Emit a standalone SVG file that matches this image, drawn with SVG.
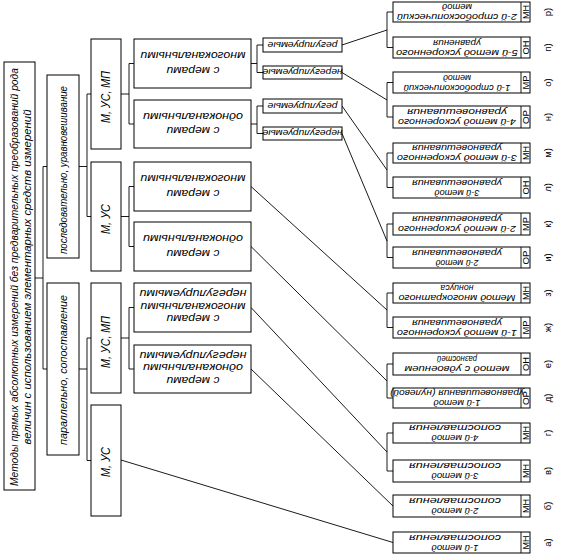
<svg xmlns="http://www.w3.org/2000/svg" width="561" height="557" viewBox="0 0 561 557">
<style>
.b{fill:#fff;stroke:#000;stroke-width:1}
.l{fill:none;stroke:#000;stroke-width:0.9}
text{font-family:"Liberation Sans",Arial,sans-serif;font-style:italic;fill:#000;dominant-baseline:central;text-anchor:middle}
.f10{font-size:10.5px}
.f4{font-size:11px}
.f11{font-size:12px}
.f9{font-size:9.5px}
.f8{font-size:9px}
.c{font-size:8.5px;font-style:normal}
.lab{font-size:9.5px;font-style:normal}
</style>
<rect width="561" height="557" fill="#fff"/>
<g id="connectors" class="l">
<path d="M35 278H43M43 166.5V369M43 166.5H47M43 369H47"/>
<path d="M79 166.5H87M87 94V216.5M87 94H91M87 216.5H91"/>
<path d="M79 369H87M87 338V460.5M87 338H91M87 460.5H91"/>
<path d="M121 94H129M129 63.5V124M129 63.5H134M129 124H134"/>
<path d="M121 216.5H129M129 186.5V246.5M129 186.5H134M129 246.5H134"/>
<path d="M121 338H129M129 307.5V369M129 307.5H134M129 369H134"/>
<path d="M251 63.5H257M257 45V72.5M257 45H263M257 72.5H263"/>
<path d="M251 124H257M257 106V133.5M257 106H263M257 133.5H263"/>
<path d="M342 45L387 30M342 72.5L387 100M342 106L387 170M342 133.5L387 241"/>
<path d="M251 186.5L387 310M251 246.5L387 381M251 307.5L387 452M251 369L393 506M121 460L393 542.5"/>
<path d="M387 12V47.5M387 12H393M387 47.5H393"/>
<path d="M387 82.5V117M387 82.5H393M387 117H393"/>
<path d="M387 153V187.5M387 153H393M387 187.5H393"/>
<path d="M387 224V257.5M387 224H393M387 257.5H393"/>
<path d="M387 293V327.5M387 293H393M387 327.5H393"/>
<path d="M387 364V398M387 364H393M387 398H393"/>
<path d="M387 433V471M387 433H393M387 471H393"/>
</g>
<g id="root">
<rect class="b" x="4" y="62" width="31" height="428"/>
<text class="f10" transform="rotate(-90 14 277)" x="14" y="277" textLength="418" lengthAdjust="spacingAndGlyphs">Методы прямых абсолютных измерений без предварительных преобразований рода</text>
<text class="f10" transform="rotate(-90 27 277)" x="27" y="277" textLength="335" lengthAdjust="spacingAndGlyphs">величин с использованием элементарных средств измерений</text>
</g>
<g id="posl">
<rect class="b" x="47" y="75" width="32" height="183"/>
<text class="f10" transform="rotate(-90 63 170)" x="63" y="170" textLength="168" lengthAdjust="spacingAndGlyphs">последовательно, уравновешивание</text>
</g>
<g id="par">
<rect class="b" x="47" y="283" width="32" height="172"/>
<text class="f10" transform="rotate(-90 63 370)" x="63" y="370" textLength="150" lengthAdjust="spacingAndGlyphs">параллельно, сопоставление</text>
</g>
<g id="u1"><rect class="b" x="91" y="39" width="30" height="110"/><text class="f11" transform="rotate(-90 106 97)" x="106" y="97" textLength="52" lengthAdjust="spacingAndGlyphs">М, УС, МП</text></g>
<g id="u2"><rect class="b" x="91" y="162" width="30" height="109"/><text class="f11" transform="rotate(-90 106 219)" x="106" y="219" textLength="30" lengthAdjust="spacingAndGlyphs">М, УС</text></g>
<g id="l1"><rect class="b" x="91" y="283" width="30" height="110"/><text class="f11" transform="rotate(-90 106 342)" x="106" y="342" textLength="52" lengthAdjust="spacingAndGlyphs">М, УС, МП</text></g>
<g id="l2"><rect class="b" x="91" y="405" width="30" height="111"/><text class="f11" transform="rotate(-90 106 462)" x="106" y="462" textLength="30" lengthAdjust="spacingAndGlyphs">М, УС</text></g>
<g id="a1"><rect class="b" x="134" y="39" width="117" height="49"/><g transform="rotate(180 193 63.5)"><text class="f4" x="193" y="56.5" textLength="53" lengthAdjust="spacingAndGlyphs">с мерами</text><text class="f4" x="193" y="71" textLength="105" lengthAdjust="spacingAndGlyphs">многоканальными</text></g></g>
<g id="a2"><rect class="b" x="134" y="100" width="117" height="48"/><g transform="rotate(180 193 124)"><text class="f4" x="193" y="117" textLength="53" lengthAdjust="spacingAndGlyphs">с мерами</text><text class="f4" x="193" y="131.5" textLength="100" lengthAdjust="spacingAndGlyphs">одноканальными</text></g></g>
<g id="b1"><rect class="b" x="134" y="162" width="117" height="49"/><g transform="rotate(180 193 186.5)"><text class="f4" x="193" y="179.5" textLength="53" lengthAdjust="spacingAndGlyphs">с мерами</text><text class="f4" x="193" y="194" textLength="105" lengthAdjust="spacingAndGlyphs">многоканальными</text></g></g>
<g id="b2"><rect class="b" x="134" y="222" width="117" height="49"/><g transform="rotate(180 193 246.5)"><text class="f4" x="193" y="239.5" textLength="53" lengthAdjust="spacingAndGlyphs">с мерами</text><text class="f4" x="193" y="254" textLength="100" lengthAdjust="spacingAndGlyphs">одноканальными</text></g></g>
<g id="c1"><rect class="b" x="134" y="283" width="117" height="49"/><g transform="rotate(180 193 307.5)"><text class="f4" x="193" y="296" textLength="53" lengthAdjust="spacingAndGlyphs">с мерами</text><text class="f4" x="193" y="308.5" textLength="105" lengthAdjust="spacingAndGlyphs">многоканальными</text><text class="f4" x="193" y="321" textLength="107" lengthAdjust="spacingAndGlyphs">нерегулируемыми</text></g></g>
<g id="c2"><rect class="b" x="134" y="345" width="117" height="48"/><g transform="rotate(180 193 369)"><text class="f4" x="193" y="357.5" textLength="53" lengthAdjust="spacingAndGlyphs">с мерами</text><text class="f4" x="193" y="370" textLength="100" lengthAdjust="spacingAndGlyphs">одноканальными</text><text class="f4" x="193" y="382.5" textLength="107" lengthAdjust="spacingAndGlyphs">нерегулируемыми</text></g></g>
<g id="r1"><rect class="b" x="263" y="38" width="79" height="14"/><text class="f9" transform="rotate(180 302.5 45)" x="302.5" y="45" textLength="70" lengthAdjust="spacingAndGlyphs">регулируемые</text></g>
<g id="r2"><rect class="b" x="263" y="66" width="79" height="13"/><text class="f9" transform="rotate(180 302.5 72.5)" x="302.5" y="72.5" textLength="80" lengthAdjust="spacingAndGlyphs">нерегулируемые</text></g>
<g id="r3"><rect class="b" x="263" y="99" width="79" height="14"/><text class="f9" transform="rotate(180 302.5 106)" x="302.5" y="106" textLength="70" lengthAdjust="spacingAndGlyphs">регулируемые</text></g>
<g id="r4"><rect class="b" x="263" y="127" width="79" height="13"/><text class="f9" transform="rotate(180 302.5 133.5)" x="302.5" y="133.5" textLength="80" lengthAdjust="spacingAndGlyphs">нерегулируемые</text></g>
<g id="m-r"><rect class="b" x="393" y="2" width="137" height="20"/><path class="l" d="M521 2V22"/><g transform="rotate(180 457 12)"><text class="f8" x="457" y="7" textLength="120" lengthAdjust="spacingAndGlyphs">2-й стробоскопический</text><text class="f8" x="457" y="17" textLength="30" lengthAdjust="spacingAndGlyphs">метод</text></g><text class="c" transform="rotate(-90 525.5 12)" x="525.5" y="12" textLength="14" lengthAdjust="spacingAndGlyphs">МН</text><text class="lab" transform="rotate(-90 547 12)" x="547" y="12">р)</text></g>
<g id="m-p"><rect class="b" x="393" y="37" width="137" height="21"/><path class="l" d="M521 37V58"/><g transform="rotate(180 457 47.5)"><text class="f8" x="457" y="42.5" textLength="122" lengthAdjust="spacingAndGlyphs">5-й метод ускоренного</text><text class="f8" x="457" y="52.5" textLength="48" lengthAdjust="spacingAndGlyphs">уравнения</text></g><text class="c" transform="rotate(-90 525.5 47.5)" x="525.5" y="47.5" textLength="14" lengthAdjust="spacingAndGlyphs">ОН</text><text class="lab" transform="rotate(-90 547 47.5)" x="547" y="47.5">п)</text></g>
<g id="m-o"><rect class="b" x="393" y="72" width="137" height="21"/><path class="l" d="M521 72V93"/><g transform="rotate(180 457 82.5)"><text class="f8" x="457" y="77.5" textLength="107" lengthAdjust="spacingAndGlyphs">1-й стробоскопический</text><text class="f8" x="457" y="87.5" textLength="28" lengthAdjust="spacingAndGlyphs">метод</text></g><text class="c" transform="rotate(-90 525.5 82.5)" x="525.5" y="82.5" textLength="14" lengthAdjust="spacingAndGlyphs">МР</text><text class="lab" transform="rotate(-90 547 82.5)" x="547" y="82.5">о)</text></g>
<g id="m-n"><rect class="b" x="393" y="106" width="137" height="22"/><path class="l" d="M521 106V128"/><g transform="rotate(180 457 117)"><text class="f8" x="457" y="112" textLength="118" lengthAdjust="spacingAndGlyphs">4-й метод ускоренного</text><text class="f8" x="457" y="122" textLength="100" lengthAdjust="spacingAndGlyphs">уравновешивания</text></g><text class="c" transform="rotate(-90 525.5 117)" x="525.5" y="117" textLength="14" lengthAdjust="spacingAndGlyphs">ОР</text><text class="lab" transform="rotate(-90 547 117)" x="547" y="117">н)</text></g>
<g id="m-m"><rect class="b" x="393" y="143" width="137" height="20"/><path class="l" d="M521 143V163"/><g transform="rotate(180 457 153)"><text class="f8" x="457" y="148" textLength="120" lengthAdjust="spacingAndGlyphs">3-й метод ускоренного</text><text class="f8" x="457" y="158" textLength="90" lengthAdjust="spacingAndGlyphs">уравновешивания</text></g><text class="c" transform="rotate(-90 525.5 153)" x="525.5" y="153" textLength="14" lengthAdjust="spacingAndGlyphs">МН</text><text class="lab" transform="rotate(-90 547 153)" x="547" y="153">м)</text></g>
<g id="m-l"><rect class="b" x="393" y="177" width="137" height="21"/><path class="l" d="M521 177V198"/><g transform="rotate(180 457 187.5)"><text class="f8" x="457" y="182.5" textLength="45" lengthAdjust="spacingAndGlyphs">3-й метод</text><text class="f8" x="457" y="192.5" textLength="90" lengthAdjust="spacingAndGlyphs">уравновешивания</text></g><text class="c" transform="rotate(-90 525.5 187.5)" x="525.5" y="187.5" textLength="14" lengthAdjust="spacingAndGlyphs">ОН</text><text class="lab" transform="rotate(-90 547 187.5)" x="547" y="187.5">л)</text></g>
<g id="m-k"><rect class="b" x="393" y="213" width="137" height="22"/><path class="l" d="M521 213V235"/><g transform="rotate(180 457 224)"><text class="f8" x="457" y="219" textLength="118" lengthAdjust="spacingAndGlyphs">2-й метод ускоренного</text><text class="f8" x="457" y="229" textLength="90" lengthAdjust="spacingAndGlyphs">уравновешивания</text></g><text class="c" transform="rotate(-90 525.5 224)" x="525.5" y="224" textLength="14" lengthAdjust="spacingAndGlyphs">МР</text><text class="lab" transform="rotate(-90 547 224)" x="547" y="224">к)</text></g>
<g id="m-i"><rect class="b" x="393" y="247" width="137" height="21"/><path class="l" d="M521 247V268"/><g transform="rotate(180 457 257.5)"><text class="f8" x="457" y="252.5" textLength="43" lengthAdjust="spacingAndGlyphs">2-й метод</text><text class="f8" x="457" y="262.5" textLength="90" lengthAdjust="spacingAndGlyphs">уравновешивания</text></g><text class="c" transform="rotate(-90 525.5 257.5)" x="525.5" y="257.5" textLength="14" lengthAdjust="spacingAndGlyphs">ОР</text><text class="lab" transform="rotate(-90 547 257.5)" x="547" y="257.5">и)</text></g>
<g id="m-z"><rect class="b" x="393" y="283" width="137" height="20"/><path class="l" d="M521 283V303"/><g transform="rotate(180 457 293)"><text class="f8" x="457" y="288" textLength="117" lengthAdjust="spacingAndGlyphs">Метод многократного</text><text class="f8" x="457" y="298" textLength="33" lengthAdjust="spacingAndGlyphs">нониуса</text></g><text class="c" transform="rotate(-90 525.5 293)" x="525.5" y="293" textLength="14" lengthAdjust="spacingAndGlyphs">МН</text><text class="lab" transform="rotate(-90 547 293)" x="547" y="293">з)</text></g>
<g id="m-zh"><rect class="b" x="393" y="317" width="137" height="21"/><path class="l" d="M521 317V338"/><g transform="rotate(180 457 327.5)"><text class="f8" x="457" y="322.5" textLength="120" lengthAdjust="spacingAndGlyphs">1-й метод ускоренного</text><text class="f8" x="457" y="332.5" textLength="90" lengthAdjust="spacingAndGlyphs">уравновешивания</text></g><text class="c" transform="rotate(-90 525.5 327.5)" x="525.5" y="327.5" textLength="14" lengthAdjust="spacingAndGlyphs">МР</text><text class="lab" transform="rotate(-90 547 327.5)" x="547" y="327.5">ж)</text></g>
<g id="m-e"><rect class="b" x="393" y="353" width="137" height="22"/><path class="l" d="M521 353V375"/><g transform="rotate(180 457 364)"><text class="f8" x="457" y="359" textLength="105" lengthAdjust="spacingAndGlyphs">метод с удвоением</text><text class="f8" x="457" y="369" textLength="40" lengthAdjust="spacingAndGlyphs">разностей</text></g><text class="c" transform="rotate(-90 525.5 364)" x="525.5" y="364" textLength="14" lengthAdjust="spacingAndGlyphs">ОН</text><text class="lab" transform="rotate(-90 547 364)" x="547" y="364">е)</text></g>
<g id="m-d"><rect class="b" x="393" y="388" width="137" height="20"/><path class="l" d="M521 388V408"/><g transform="rotate(180 457 398)"><text class="f8" x="457" y="393" textLength="47" lengthAdjust="spacingAndGlyphs">1-й метод</text><text class="f8" x="457" y="403" textLength="134" lengthAdjust="spacingAndGlyphs">уравновешивания (нулевой)</text></g><text class="c" transform="rotate(-90 525.5 398)" x="525.5" y="398" textLength="14" lengthAdjust="spacingAndGlyphs">ОР</text><text class="lab" transform="rotate(-90 547 398)" x="547" y="398">д)</text></g>
<g id="m-g"><rect class="b" x="393" y="423" width="137" height="20"/><path class="l" d="M521 423V443"/><g transform="rotate(180 455 433)"><text class="f8" x="455" y="428" textLength="47" lengthAdjust="spacingAndGlyphs">4-й метод</text><text class="f8" x="455" y="438" textLength="92" lengthAdjust="spacingAndGlyphs">сопоставления</text></g><text class="c" transform="rotate(-90 525.5 433)" x="525.5" y="433" textLength="14" lengthAdjust="spacingAndGlyphs">МН</text><text class="lab" transform="rotate(-90 547 433)" x="547" y="433">г)</text></g>
<g id="m-v"><rect class="b" x="393" y="460" width="137" height="22"/><path class="l" d="M521 460V482"/><g transform="rotate(180 455 471)"><text class="f8" x="455" y="466" textLength="47" lengthAdjust="spacingAndGlyphs">3-й метод</text><text class="f8" x="455" y="476" textLength="92" lengthAdjust="spacingAndGlyphs">сопоставления</text></g><text class="c" transform="rotate(-90 525.5 471)" x="525.5" y="471" textLength="14" lengthAdjust="spacingAndGlyphs">МН</text><text class="lab" transform="rotate(-90 547 471)" x="547" y="471">в)</text></g>
<g id="m-b"><rect class="b" x="393" y="495" width="137" height="22"/><path class="l" d="M521 495V517"/><g transform="rotate(180 455 506)"><text class="f8" x="455" y="501" textLength="47" lengthAdjust="spacingAndGlyphs">2-й метод</text><text class="f8" x="455" y="511" textLength="92" lengthAdjust="spacingAndGlyphs">сопоставления</text></g><text class="c" transform="rotate(-90 525.5 506)" x="525.5" y="506" textLength="14" lengthAdjust="spacingAndGlyphs">МН</text><text class="lab" transform="rotate(-90 547 506)" x="547" y="506">б)</text></g>
<g id="m-a"><rect class="b" x="393" y="532" width="137" height="21"/><path class="l" d="M521 532V553"/><g transform="rotate(180 455 542.5)"><text class="f8" x="455" y="537.5" textLength="47" lengthAdjust="spacingAndGlyphs">1-й метод</text><text class="f8" x="455" y="547.5" textLength="92" lengthAdjust="spacingAndGlyphs">сопоставления</text></g><text class="c" transform="rotate(-90 525.5 542.5)" x="525.5" y="542.5" textLength="14" lengthAdjust="spacingAndGlyphs">МН</text><text class="lab" transform="rotate(-90 547 542.5)" x="547" y="542.5">а)</text></g>
</svg>
